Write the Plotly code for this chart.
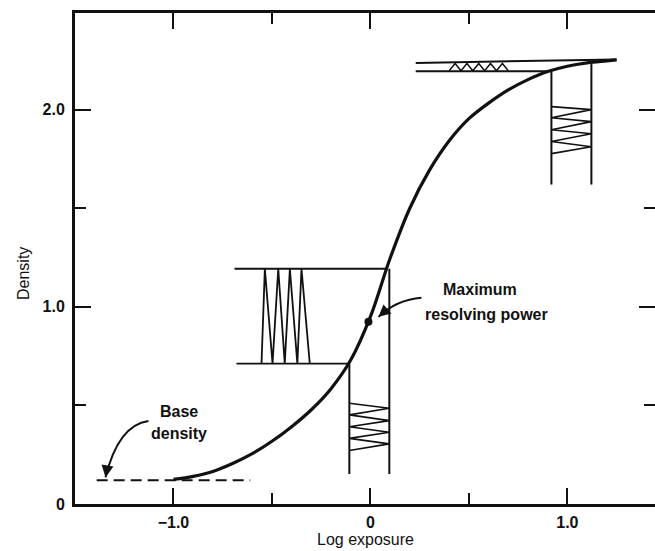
import plotly.graph_objects as go

# ---- data ----
curve_x = [-1.0, -0.9, -0.8, -0.7, -0.6, -0.5, -0.4, -0.3, -0.2, -0.1, 0.0, 0.1, 0.2, 0.3, 0.4, 0.5, 0.6, 0.7, 0.8, 0.9, 1.0, 1.1, 1.2, 1.25]
curve_y = [0.125, 0.140, 0.165, 0.205, 0.255, 0.318, 0.392, 0.478, 0.585, 0.730, 0.950, 1.246, 1.500, 1.693, 1.842, 1.954, 2.033, 2.100, 2.152, 2.193, 2.220, 2.237, 2.247, 2.252]

base_x = [-1.39, -0.61]
base_y = [0.12, 0.12]

max_rp_x = [-0.01]
max_rp_y = [0.924]

# toe stripe pattern (horizontal bars, drawn sideways)
toe_top_x = [-0.69, 0.081]
toe_top_y = [1.193, 1.193]
toe_bot_x = [-0.68, -0.112]
toe_bot_y = [0.712, 0.712]
toe_zig_x = [-0.553, -0.536, -0.497, -0.468, -0.435, -0.409, -0.371, -0.350, -0.308]
toe_zig_y = [0.712, 1.193, 0.712, 1.193, 0.712, 1.193, 0.712, 1.193, 0.712]

# middle stripe pattern (vertical)
mid_left_x = [-0.107, -0.107]
mid_left_y = [0.712, 0.152]
mid_right_x = [0.096, 0.096]
mid_right_y = [1.193, 0.152]
mid_zig_x = [-0.107, 0.096, -0.107, 0.096, -0.107, 0.096, -0.107, 0.096, -0.107]
mid_zig_y = [0.511, 0.486, 0.452, 0.423, 0.392, 0.364, 0.333, 0.305, 0.271]

# shoulder stripe pattern (vertical)
sh_left_x = [0.919, 0.919]
sh_left_y = [2.192, 1.62]
sh_right_x = [1.122, 1.122]
sh_right_y = [2.245, 1.62]
sh_zig_x = [0.919, 1.122, 0.919, 1.122, 0.919, 1.122, 0.919, 1.122, 0.919]
sh_zig_y = [2.015, 2.0, 1.959, 1.939, 1.898, 1.878, 1.838, 1.812, 1.777]

# shoulder compressed pattern (horizontal)
top_up_x = [0.23, 1.25]
top_up_y = [2.237, 2.254]
top_lo_x = [0.23, 0.90]
top_lo_y = [2.195, 2.195]
top_zig_x = [0.40, 0.43, 0.46, 0.49, 0.52, 0.55, 0.58, 0.61, 0.64, 0.67, 0.70]
top_zig_y = [2.197, 2.234, 2.197, 2.234, 2.197, 2.234, 2.197, 2.234, 2.197, 2.234, 2.197]

# callout arrows: start, control, tip
max_arrow = [(0.259, 1.046), (0.132, 1.036), (0.041, 0.949)]
base_arrow = [(-1.127, 0.421), (-1.28, 0.40), (-1.345, 0.135)]

x_tickvals = [-1.0, 0.0, 1.0]
x_ticktext = ["\u22121.0", "0", "1.0"]
y_tickvals = [0.0, 1.0, 2.0]
y_ticktext = ["0", "1.0", "2.0"]

FONT = "Liberation Sans, Arial, sans-serif"
BLACK = "#111111"

fig = go.Figure()

def line(x, y, width=2.0, dash=None):
    fig.add_trace(go.Scatter(x=x, y=y, mode="lines",
                             line=dict(color=BLACK, width=width, dash=dash),
                             hoverinfo="skip", showlegend=False))

# patterns
line(toe_top_x, toe_top_y, 1.8)
line(toe_bot_x, toe_bot_y, 1.8)
line(toe_zig_x, toe_zig_y, 1.8)
line(mid_left_x, mid_left_y, 2)
line(mid_right_x, mid_right_y, 2)
line(mid_zig_x, mid_zig_y, 1.6)
line(sh_left_x, sh_left_y, 2)
line(sh_right_x, sh_right_y, 2)
line(sh_zig_x, sh_zig_y, 1.6)
line(top_up_x, top_up_y, 2)
line(top_lo_x, top_lo_y, 2)
line(top_zig_x, top_zig_y, 1.4)

# base density dashed line
line(base_x, base_y, 2, dash="11px,6px")

# characteristic curve
fig.add_trace(go.Scatter(x=curve_x, y=curve_y, mode="lines",
                         line=dict(color=BLACK, width=3.2, shape="spline", smoothing=1.0),
                         hoverinfo="skip", showlegend=False))

# max resolving power point
fig.add_trace(go.Scatter(x=max_rp_x, y=max_rp_y, mode="markers",
                         marker=dict(color=BLACK, size=8),
                         hoverinfo="skip", showlegend=False))

# curved arrow shafts
for arr in (max_arrow, base_arrow):
    (x0, y0), (cx, cy), (x1, y1) = arr
    fig.add_shape(type="path", xref="x", yref="y",
                  path=f"M {x0},{y0} Q {cx},{cy} {x1},{y1}",
                  line=dict(color=BLACK, width=2))

# arrowheads
fig.add_annotation(x=max_arrow[2][0], y=max_arrow[2][1], ax=9, ay=-8, text="",
                   showarrow=True, arrowhead=2, arrowsize=1.2, arrowwidth=2, arrowcolor=BLACK)
fig.add_annotation(x=base_arrow[2][0], y=base_arrow[2][1], ax=2, ay=-12, text="",
                   showarrow=True, arrowhead=2, arrowsize=1.2, arrowwidth=2, arrowcolor=BLACK)

# text labels
tfont = dict(family=FONT, size=16, color=BLACK, weight="bold")
fig.add_annotation(x=0.555, y=1.09, text="Maximum", showarrow=False, font=tfont,
                   xanchor="center", yanchor="middle")
fig.add_annotation(x=0.59, y=0.96, text="resolving power", showarrow=False, font=tfont,
                   xanchor="center", yanchor="middle")
fig.add_annotation(x=-0.97, y=0.47, text="Base", showarrow=False, font=tfont,
                   xanchor="center", yanchor="middle")
fig.add_annotation(x=-0.97, y=0.36, text="density", showarrow=False, font=tfont,
                   xanchor="center", yanchor="middle")

# axis titles
fig.add_annotation(xref="paper", yref="paper", x=0.5, y=-0.072, text="Log exposure",
                   showarrow=False, font=dict(family=FONT, size=16, color=BLACK),
                   xanchor="center", yanchor="middle")
fig.add_annotation(xref="paper", yref="paper", x=-0.09, y=0.47, text="Density",
                   textangle=-90, showarrow=False, font=dict(family=FONT, size=16, color=BLACK),
                   xanchor="center", yanchor="middle")

axis_common = dict(showline=True, linewidth=3, linecolor=BLACK, mirror="allticks",
                   ticks="inside", ticklen=16, tickwidth=2.2, tickcolor=BLACK,
                   showgrid=False, zeroline=False,
                   tickfont=dict(family=FONT, size=16, color=BLACK, weight="bold"),
                   minor=dict(dtick=0.5, tick0=0, ticks="inside", ticklen=11, tickwidth=2,
                              tickcolor=BLACK, showgrid=False))

fig.update_xaxes(range=[-1.5, 1.445], tickvals=x_tickvals, ticktext=x_ticktext,
                 ticklabelstandoff=2, **axis_common)
fig.update_yaxes(range=[0, 2.49], tickvals=y_tickvals, ticktext=y_ticktext,
                 ticklabelstandoff=4, **axis_common)

fig.update_layout(width=655, height=551,
                  margin=dict(l=75, r=0, t=13, b=47, autoexpand=False),
                  paper_bgcolor="white", plot_bgcolor="white",
                  font=dict(family=FONT, color=BLACK))

fig.write_html("out.html")
